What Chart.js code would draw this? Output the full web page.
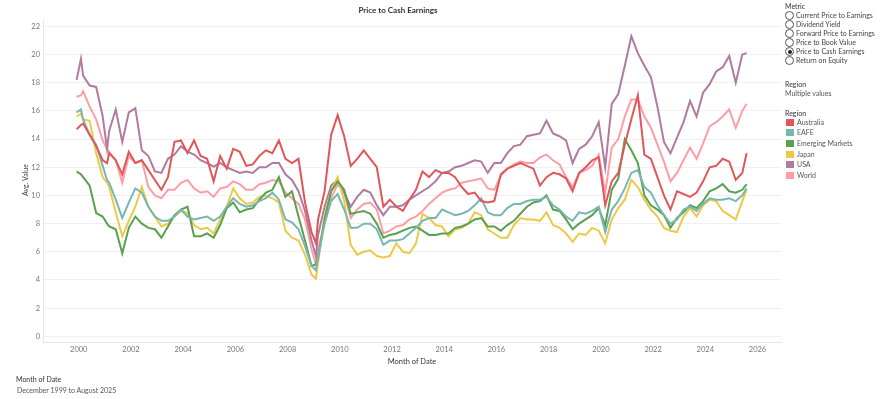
<!DOCTYPE html>
<html>
<head>
<meta charset="utf-8">
<script src="https://cdn.jsdelivr.net/npm/chart.js@4.4.1/dist/chart.umd.min.js"></script>
<style>
	html, body { margin: 0; padding: 0; background: #fff; }
	body { width: 881px; height: 399px; position: relative; overflow: hidden; font-family: Lato, "Open Sans", sans-serif; color: #333; }
	#chart { position: absolute; left: 0; top: 0; }
	.txt { position: absolute; white-space: nowrap; line-height: 1; }
	.radio { position: absolute; width: 7px; height: 7px; border: 1px solid #555; border-radius: 50%; background: #fff; }
	.radio.on::after { content: ""; position: absolute; left: 1.5px; top: 1.5px; width: 4px; height: 4px; border-radius: 50%; background: #222; }
	.swatch { position: absolute; width: 8px; height: 7px; }
</style>
</head>
<body>
<canvas id="chart" width="790" height="399"></canvas>

<div class="txt" style="left:398px; top:6px; font-size:8px; font-weight:bold; transform:translateX(-50%);">Price to Cash Earnings</div>
<div class="txt" style="left:25px; top:180px; font-size:7px; color:#444; transform:translate(-50%,-50%) rotate(-90deg);">Avg. Value</div>
<div class="txt" style="left:412px; top:358px; font-size:7.5px; color:#333; transform:translateX(-50%);">Month of Date</div>
<div class="txt" style="left:16px; top:376px; font-size:7px; color:#333;">Month of Date</div>
<div class="txt" style="left:17px; top:387px; font-size:7px; color:#555;">December 1999 to August 2025</div>

<div id="legend"></div>

<script>
// Chart data
const DATES = [
	"1999-12",
	"2000-02", "2000-03", "2000-06", "2000-09", "2000-12",
	"2001-02", "2001-03", "2001-06", "2001-09", "2001-12",
	"2002-03", "2002-06", "2002-09", "2002-12",
	"2003-03", "2003-06", "2003-09", "2003-12",
	"2004-03", "2004-06", "2004-09", "2004-12",
	"2005-03", "2005-06", "2005-09", "2005-12",
	"2006-03", "2006-06", "2006-09", "2006-12",
	"2007-03", "2007-06", "2007-09", "2007-12",
	"2008-03", "2008-06", "2008-09", "2008-12",
	"2009-02", "2009-03", "2009-06", "2009-09", "2009-12",
	"2010-03", "2010-06", "2010-09", "2010-12",
	"2011-03", "2011-06", "2011-09", "2011-12",
	"2012-03", "2012-06", "2012-09", "2012-12",
	"2013-03", "2013-06", "2013-09", "2013-12",
	"2014-03", "2014-06", "2014-09", "2014-12",
	"2015-03", "2015-06", "2015-09", "2015-12",
	"2016-03", "2016-06", "2016-09", "2016-12",
	"2017-03", "2017-06", "2017-09", "2017-12",
	"2018-03", "2018-06", "2018-09", "2018-12",
	"2019-03", "2019-06", "2019-09", "2019-12",
	"2020-03", "2020-06", "2020-09", "2020-12",
	"2021-03", "2021-06", "2021-09", "2021-12",
	"2022-03", "2022-06", "2022-09", "2022-12",
	"2023-03", "2023-06", "2023-09", "2023-12",
	"2024-03", "2024-06", "2024-09", "2024-12",
	"2025-03", "2025-06", "2025-08",
];

const AUSTRALIA = [
	14.7,
	15.0, 15.1, 14.3, 13.5, 12.5,
	12.3, 13.0, 12.5, 11.5, 13.1,
	12.3, 12.5, 11.8, 11.1,
	10.4, 11.3, 13.8, 13.9,
	13.0, 13.9, 12.8, 12.6,
	11.0, 12.8, 11.9, 13.3,
	13.1, 12.1, 12.2, 12.8,
	13.2, 13.0, 13.9, 12.6,
	12.3, 12.6, 9.5, 7.4,
	6.6, 8.3, 10.3, 14.3, 15.7,
	14.2, 12.1, 12.6, 13.2,
	12.6, 12.0, 9.2, 9.7,
	9.2, 8.9, 9.7, 10.4,
	11.7, 11.3, 11.8, 11.6,
	11.6, 11.3, 10.6, 10.1,
	10.2, 9.6, 9.5, 9.6,
	11.5, 11.9, 12.1, 12.3,
	12.1, 11.9, 10.7, 11.3,
	11.6, 11.5, 11.2, 10.3,
	11.6, 12.0, 12.5, 12.7,
	9.3, 11.0, 11.6, 13.6,
	15.4, 17.1, 12.9, 12.6,
	11.3, 10.0, 9.0, 10.3,
	10.1, 9.9, 10.2, 11.0,
	12.0, 12.1, 12.6, 12.4,
	11.1, 11.6, 13.0,
];

const EAFE = [
	15.9,
	16.1, 15.4, 14.3, 13.6, 12.1,
	11.1, 10.9, 9.7, 8.4, 9.5,
	10.5, 10.2, 9.2, 8.5,
	8.2, 8.2, 8.5, 9.0,
	8.5, 8.3, 8.4, 8.5,
	8.2, 8.5, 9.2, 9.8,
	9.4, 9.2, 9.3, 9.6,
	9.8, 10.2, 9.7, 8.3,
	8.1, 7.6, 6.4, 5.0,
	4.7, 5.6, 8.0, 9.6, 10.1,
	9.0, 7.7, 7.7, 8.0,
	8.0, 7.6, 6.5, 6.8,
	6.8, 6.9, 7.3, 7.7,
	8.2, 8.4, 8.4, 9.0,
	8.8, 8.6, 8.7, 8.9,
	9.3, 9.8, 8.8, 8.6,
	8.6, 9.1, 9.4, 9.4,
	9.6, 9.7, 9.7, 9.9,
	9.3, 9.0, 8.5, 8.2,
	8.8, 8.7, 8.9, 9.2,
	7.4, 9.0, 9.6, 10.5,
	11.6, 11.8, 10.6, 10.2,
	9.3, 8.6, 8.0, 8.3,
	9.0, 9.2, 8.9, 9.4,
	9.8, 9.7, 9.7, 9.8,
	9.6, 10.0, 10.5,
];

const EMERGING_MARKETS = [
	11.7,
	11.5, 11.3, 10.7, 8.75, 8.5,
	8.0, 7.8, 7.6, 5.9, 7.7,
	8.5, 8.0, 7.7, 7.6,
	7.0, 7.8, 8.6, 9.0,
	9.2, 7.1, 7.1, 7.3,
	7.0, 7.9, 9.1, 9.5,
	8.8, 9.0, 9.1, 9.7,
	10.2, 10.4, 11.3, 9.9,
	10.3, 8.5, 6.8, 5.0,
	5.1, 5.6, 8.3, 10.3, 11.0,
	10.4, 8.7, 8.8, 8.9,
	8.7, 8.0, 7.0, 7.2,
	7.3, 7.5, 7.7, 7.8,
	7.5, 7.2, 7.2, 7.3,
	7.3, 7.7, 7.8, 8.0,
	8.3, 8.4, 7.8, 7.8,
	7.5, 7.9, 8.2, 8.7,
	9.2, 9.5, 9.6, 10.0,
	9.0, 8.9, 8.3, 7.6,
	8.0, 8.3, 8.6, 9.1,
	7.9, 10.4, 11.2, 14.0,
	13.2, 12.3, 10.0, 9.3,
	9.0, 8.6, 7.7, 8.4,
	8.8, 9.3, 9.1, 9.6,
	10.3, 10.5, 10.8, 10.3,
	10.2, 10.4, 10.8,
];

const JAPAN = [
	15.6,
	15.8, 15.4, 15.3, 13.0, 11.3,
	10.9, 10.6, 8.8, 7.1, 8.2,
	9.2, 10.6, 9.2, 8.5,
	7.8, 8.0, 8.5, 8.9,
	8.75, 7.9, 7.6, 7.7,
	7.3, 8.3, 9.2, 10.5,
	9.8, 9.4, 9.5, 9.9,
	10.0, 9.8, 9.5, 7.5,
	7.0, 6.8, 5.8, 4.4,
	4.1, 5.2, 8.6, 10.3, 11.3,
	9.6, 6.5, 5.8, 6.0,
	6.1, 5.7, 5.6, 5.7,
	6.6, 6.0, 5.9, 6.6,
	8.7, 8.4, 7.9, 7.8,
	7.1, 7.6, 7.7, 8.0,
	8.8, 8.6, 7.6, 7.3,
	7.0, 7.0, 7.9, 8.4,
	8.3, 8.3, 8.2, 8.8,
	7.9, 7.7, 7.3, 6.7,
	7.3, 7.2, 7.7, 7.5,
	6.6, 8.3, 9.1, 9.7,
	11.1, 10.6, 9.7, 9.0,
	8.5, 7.7, 7.5, 7.4,
	8.5, 9.1, 8.5, 9.3,
	9.7, 9.6, 8.9, 8.6,
	8.3, 9.6, 10.4,
];

const USA = [
	18.2,
	19.7, 18.5, 17.8, 17.7, 15.6,
	13.3, 14.6, 16.1, 13.8, 15.9,
	16.2, 13.2, 12.8, 11.7,
	11.6, 12.6, 12.9, 13.5,
	13.1, 12.9, 12.5, 12.3,
	12.05, 12.3, 12.0, 11.8,
	11.6, 11.7, 11.6, 12.0,
	12.0, 12.3, 12.3, 11.5,
	11.1, 10.3, 8.9, 6.8,
	5.7, 7.2, 9.2, 10.7, 11.1,
	10.2, 9.2, 9.9, 10.4,
	10.2, 9.3, 8.6, 9.2,
	9.2, 9.3, 9.7, 10.0,
	10.3, 10.6, 11.0, 11.6,
	11.7, 12.0, 12.1, 12.3,
	12.5, 12.4, 11.6, 12.3,
	12.3, 13.0, 13.5, 13.6,
	14.2, 14.3, 14.4, 15.3,
	14.4, 14.2, 13.9, 12.3,
	13.3, 13.6, 14.2, 15.2,
	12.0, 16.5, 17.2, 19.2,
	21.3, 20.1, 19.2, 18.4,
	16.3, 13.8, 13.0, 14.1,
	15.2, 16.7, 15.6, 17.3,
	17.9, 18.8, 19.1, 19.9,
	18.0, 20.0, 20.1,
];

const WORLD = [
	17.0,
	17.1, 17.4, 16.3, 15.4, 13.9,
	13.3, 13.1, 12.5, 10.9, 12.8,
	12.3, 12.5, 10.6, 10.0,
	9.8, 10.4, 10.4, 10.9,
	11.1, 10.5, 10.2, 10.3,
	9.9, 10.5, 10.6, 11.0,
	10.8, 10.4, 10.4, 10.8,
	10.9, 11.1, 11.0, 10.2,
	9.8, 9.4, 8.3, 6.2,
	5.1, 6.2, 8.0, 9.8, 10.8,
	10.2, 8.4, 9.0, 9.4,
	9.5, 9.0, 7.3, 7.5,
	7.8, 7.9, 8.3, 8.5,
	8.9, 9.4, 9.8, 10.2,
	10.4, 10.5, 10.9, 11.0,
	11.1, 11.2, 10.5, 10.4,
	11.4, 11.9, 12.2, 12.4,
	12.3, 12.3, 12.7, 12.9,
	12.5, 12.2, 11.3, 10.6,
	11.6, 11.8, 12.1, 12.9,
	10.2, 13.4, 14.0, 15.6,
	16.8, 16.8, 15.6, 14.8,
	13.6, 12.4, 11.0, 11.6,
	12.5, 13.4, 12.6, 13.7,
	14.9, 15.2, 15.6, 16.1,
	14.8, 16.0, 16.5,
];

const REGIONS = ["Australia", "EAFE", "Emerging Markets", "Japan", "USA", "World"];
const REGION_VALUES = [AUSTRALIA, EAFE, EMERGING_MARKETS, JAPAN, USA, WORLD];
const REGION_COLORS = ["#e15759", "#76b7b2", "#59a14f", "#edc948", "#b07aa1", "#ff9da7"];

const METRICS = ["Current Price to Earnings", "Dividend Yield", "Forward Price to Earnings", "Price to Book Value", "Price to Cash Earnings", "Return on Equity"];
const SELECTED_METRIC = "Price to Cash Earnings";

const X_TICKS = [2000, 2002, 2004, 2006, 2008, 2010, 2012, 2014, 2016, 2018, 2020, 2022, 2024, 2026];
const Y_TICKS = [0, 2, 4, 6, 8, 10, 12, 14, 16, 18, 20, 22];

// "YYYY-MM" -> decimal year
const toYear = (s) => {
	const [y, m] = s.split("-").map(Number);
	return y + (m - 1) / 12;
};

//---------------------------------------------------------
// Legend panel (html)
//---------------------------------------------------------
const legend = document.getElementById("legend");
const addText = (text, left, cy, size, color) => {
	const el = document.createElement("div");
	el.className = "txt";
	el.textContent = text;
	el.style.left = left + "px";
	el.style.top = cy - size / 2 + "px";
	el.style.fontSize = size + "px";
	el.style.color = color;
	legend.appendChild(el);
	return el;
};

addText("Metric", 785, 6, 7, "#333");
const RADIO_Y = [15, 24, 33, 42.3, 51.6, 60.7];
METRICS.forEach((m, i) => {
	const r = document.createElement("div");
	r.className = "radio" + (m === SELECTED_METRIC ? " on" : "");
	r.style.left = "785px";
	r.style.top = RADIO_Y[i] - 4.5 + "px";
	legend.appendChild(r);
	addText(m, 796, RADIO_Y[i], 7, "#444");
});

addText("Region", 785, 84, 7, "#333");
addText("Multiple values", 785, 93, 7, "#555");

addText("Region", 785, 113, 7, "#333");
const SWATCH_Y = [122.3, 132.8, 143.4, 154, 164.6, 175.2];
REGIONS.forEach((r, i) => {
	const sw = document.createElement("div");
	sw.className = "swatch";
	sw.style.left = "786px";
	sw.style.top = SWATCH_Y[i] - 3.5 + "px";
	sw.style.background = REGION_COLORS[i];
	legend.appendChild(sw);
	addText(r, 797, SWATCH_Y[i], 7, "#555");
});

//---------------------------------------------------------
// Chart
//---------------------------------------------------------
Chart.defaults.font.family = 'Lato, "Open Sans", sans-serif';

const CHART_DATA = {
	datasets: REGIONS.map((name, i) => ({
		label: name,
		data: DATES.map((d, j) => ({ x: toYear(d), y: REGION_VALUES[i][j] })),
		borderColor: REGION_COLORS[i],
		backgroundColor: REGION_COLORS[i],
		borderWidth: 2,
		tension: 0,
		pointRadius: 0,
		fill: false,
	})),
};

const CHART_CONFIG = {
	type: "line",
	data: CHART_DATA,
	options: {
		responsive: false,
		animation: false,
		devicePixelRatio: 1,
		layout: {
			padding: { left: 0, right: 9, top: 20, bottom: 37 },
		},
		scales: {
			x: {
				type: "linear",
				min: 1998.63,
				max: 2026.9,
				afterBuildTicks: (scale) => {
					scale.ticks = X_TICKS.map((v) => ({ value: v }));
				},
				afterFit: (scale) => {
					scale.height = 20;
				},
				grid: { display: false, drawTicks: false },
				border: { display: true, color: "#e6e6e6" },
				ticks: {
					callback: (v) => String(v),
					color: "#777",
					font: { size: 7.5 },
					padding: 3,
					maxRotation: 0,
					autoSkip: false,
				},
			},
			y: {
				min: -0.4,
				max: 22.45,
				afterBuildTicks: (scale) => {
					scale.ticks = Y_TICKS.map((v) => ({ value: v }));
				},
				afterFit: (scale) => {
					scale.width = 43;
				},
				grid: { color: "#f0f0f0", drawTicks: false },
				border: { display: true, color: "#e6e6e6" },
				ticks: {
					color: "#777",
					font: { size: 7.5 },
					padding: 3,
				},
			},
		},
		plugins: {
			legend: { display: false },
			tooltip: { enabled: false },
		},
	},
};

new Chart(document.getElementById("chart"), CHART_CONFIG);
</script>
</body>
</html>
